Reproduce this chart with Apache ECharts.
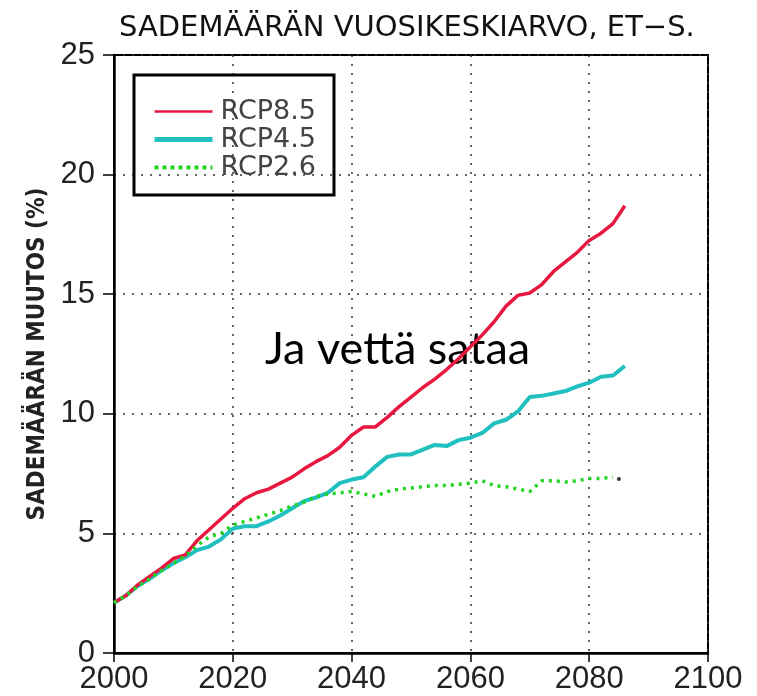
<!DOCTYPE html>
<html>
<head>
<meta charset="utf-8">
<script src="https://cdn.jsdelivr.net/npm/echarts@6/dist/echarts.min.js"></script>
<style>
  html, body { margin: 0; padding: 0; background: #fff; }
  #chart { width: 757px; height: 696px; }
</style>
</head>
<body>
<div id="chart"></div>
<script>
// vuodet, joka toinen vuosi
var years = [2000, 2002, 2004, 2006, 2008, 2010, 2012, 2014, 2016, 2018,
             2020, 2022, 2024, 2026, 2028, 2030, 2032, 2034, 2036, 2038,
             2040, 2042, 2044, 2046, 2048, 2050, 2052, 2054, 2056, 2058,
             2060, 2062, 2064, 2066, 2068, 2070, 2072, 2074, 2076, 2078,
             2080, 2082, 2084, 2086];

var rcp85 = [2.1, 2.4, 2.85, 3.2, 3.55, 3.95, 4.1, 4.7, 5.15, 5.6,
             6.05, 6.45, 6.7, 6.85, 7.1, 7.35, 7.7, 8.0, 8.25, 8.6,
             9.1, 9.45, 9.45, 9.85, 10.3, 10.7, 11.1, 11.45, 11.85, 12.3,
             12.8, 13.3, 13.85, 14.5, 14.95, 15.05, 15.4, 15.95, 16.35, 16.75,
             17.25, 17.55, 17.95, 18.7];

var rcp45 = [2.1, 2.4, 2.8, 3.1, 3.45, 3.75, 4.0, 4.3, 4.45, 4.75,
             5.2, 5.3, 5.3, 5.5, 5.75, 6.05, 6.35, 6.5, 6.7, 7.1,
             7.25, 7.35, 7.8, 8.2, 8.3, 8.3, 8.5, 8.7, 8.65, 8.9,
             9.0, 9.2, 9.6, 9.75, 10.1, 10.7, 10.75, 10.85, 10.95, 11.15,
             11.3, 11.55, 11.6, 12.0];

var rcp26 = [2.1, 2.4, 2.8, 3.1, 3.45, 3.75, 4.05, 4.5, 4.85, 5.0,
             5.35, 5.5, 5.65, 5.8, 5.95, 6.15, 6.3, 6.55, 6.65, 6.7,
             6.75, 6.65, 6.55, 6.75, 6.85, 6.9, 6.95, 7.0, 7.0, 7.05,
             7.1, 7.2, 7.0, 6.95, 6.85, 6.75, 7.2, 7.2, 7.15, 7.2,
             7.3, 7.3, 7.35, null];

// musta piste käyrän lopussa
var endDot = [[2085, 7.27]];

var xTicks = [2000, 2020, 2040, 2060, 2080, 2100];
var yTicks = [0, 5, 10, 15, 20, 25];

function pairs(vals) {
    return years.map(function (y, i) { return [y, vals[i]]; });
}

var myChart = echarts.init(document.getElementById('chart'));

var gridDots = {
    show: true,
    lineStyle: { color: '#333', width: 1.5, type: [2, 7] }
};

myChart.setOption({
    animation: false,
    title: {
        text: 'SADEMÄÄRÄN VUOSIKESKIARVO, ET\u2212S.',
        left: 114,
        top: 9,
        textStyle: {
            fontFamily: 'DejaVu Sans',
            fontWeight: 'normal',
            fontSize: 29,
            color: '#111'
        }
    },
    legend: {
        data: [
            { name: 'RCP8.5', lineStyle: { width: 2.5 } },
            { name: 'RCP4.5', lineStyle: { width: 5 } },
            { name: 'RCP2.6', lineStyle: { width: 4, type: [4, 4] } }
        ],
        orient: 'vertical',
        left: 134,
        top: 75,
        padding: [23, 18, 14, 18],
        itemGap: 1,
        itemWidth: 58,
        itemHeight: 14,
        borderColor: '#000',
        borderWidth: 3,
        itemStyle: { opacity: 0 },
        textStyle: {
            fontFamily: 'DejaVu Sans',
            fontSize: 27,
            color: '#444',
            padding: [0, 0, 0, 3]
        }
    },
    grid: {
        left: 114,
        right: 49,
        top: 55,
        bottom: 43,
        show: true,
        borderColor: '#000',
        borderWidth: 2
    },
    xAxis: {
        type: 'value',
        min: xTicks[0],
        max: xTicks[xTicks.length - 1],
        interval: 20,
        axisLine: { lineStyle: { color: '#000', width: 2.5 } },
        axisTick: { show: true, length: 9, lineStyle: { color: '#000', width: 1.5 } },
        axisLabel: {
            margin: 11,
            fontFamily: 'Liberation Sans',
            fontSize: 31,
            color: '#222',
            formatter: function (v) { return String(v); }
        },
        splitLine: gridDots
    },
    yAxis: {
        type: 'value',
        min: yTicks[0],
        max: yTicks[yTicks.length - 1],
        interval: 5,
        name: 'SADEMÄÄRÄN MUUTOS (%)',
        nameLocation: 'middle',
        nameGap: 61,
        nameTextStyle: {
            fontFamily: 'DejaVu Sans Condensed',
            fontWeight: 'bold',
            fontSize: 24,
            color: '#222'
        },
        axisLine: { lineStyle: { color: '#000', width: 2.5 } },
        axisTick: { show: true, length: 11, lineStyle: { color: '#000', width: 1.5 } },
        axisLabel: {
            margin: 19,
            fontFamily: 'Liberation Sans',
            fontSize: 31,
            color: '#222'
        },
        splitLine: gridDots
    },
    graphic: [{
        type: 'text',
        left: 265,
        top: 327,
        style: {
            text: 'Ja vettä sataa',
            font: '45px Lato',
            fill: '#000'
        }
    }],
    series: [
        {
            name: 'RCP8.5',
            type: 'line',
            data: pairs(rcp85),
            symbol: 'none',
            z: 4,
            lineStyle: { color: '#e8173f', width: 3.5 },
            itemStyle: { color: '#e8173f' }
        },
        {
            name: 'RCP4.5',
            type: 'line',
            data: pairs(rcp45),
            symbol: 'none',
            z: 3,
            lineStyle: { color: '#20c0c0', width: 4 },
            itemStyle: { color: '#20c0c0' }
        },
        {
            name: 'RCP2.6',
            type: 'line',
            data: pairs(rcp26),
            symbol: 'none',
            z: 5,
            lineStyle: { color: '#22d422', width: 3.5, type: [3, 5] },
            itemStyle: { color: '#22d422' }
        },
        {
            name: 'loppu',
            type: 'scatter',
            data: endDot,
            symbolSize: 4,
            z: 6,
            itemStyle: { color: '#000' }
        }
    ]
});
</script>
</body>
</html>
